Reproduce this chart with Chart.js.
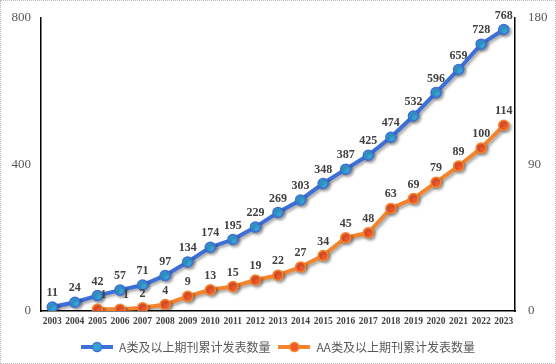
<!DOCTYPE html>
<html>
<head>
<meta charset="utf-8">
<script src="https://cdn.jsdelivr.net/npm/chart.js@4"></script>
<style>
    html, body { margin: 0; padding: 0; background: #fff; }
    #wrap { width: 554px; height: 362px; border: 1px dotted #bbb; position: relative; }
</style>
</head>
<body>
<div id="wrap"><canvas id="chart" width="554" height="362"></canvas></div>
<script>
// ================= DATA =================
const years = ["2003","2004","2005","2006","2007","2008","2009","2010","2011","2012","2013",
    "2014","2015","2016","2017","2018","2019","2020","2021","2022","2023"];
const seriesA = [11, 24, 42, 57, 71, 97, 134, 174, 195, 229, 269, 303, 348, 387, 425, 474, 532, 596, 659, 728, 768];
const seriesAA = [null, null, 1, 1, 2, 4, 9, 13, 15, 19, 22, 27, 34, 45, 48, 63, 69, 79, 89, 100, 114];
const leftTicks = [0, 400, 800];
const rightTicks = [0, 90, 180];
const labelA = "A类及以上期刊累计发表数量";
const labelAA = "AA类及以上期刊累计发表数量";

// ================= LEGEND ICONS =================
function legendIcon(line, fill) {
    const c = document.createElement("canvas");
    c.width = 32; c.height = 12;
    const g = c.getContext("2d");
    g.strokeStyle = line;
    g.lineWidth = 4;
    g.beginPath(); g.moveTo(0, 6); g.lineTo(32, 6); g.stroke();
    g.fillStyle = fill;
    g.lineWidth = 1.5;
    g.beginPath(); g.arc(16, 6, 4.5, 0, Math.PI * 2); g.fill(); g.stroke();
    return c;
}

// ================= PLUGINS =================
// value labels above each point
const valueLabels = {
    id: "valueLabels",
    afterDatasetsDraw(chart) {
        const ctx = chart.ctx;
        ctx.save();
        ctx.font = "bold 12px 'Liberation Serif'";
        ctx.fillStyle = "#404040";
        ctx.textAlign = "center";
        ctx.textBaseline = "bottom";
        chart.data.datasets.forEach((ds, i) => {
            chart.getDatasetMeta(i).data.forEach((pt, j) => {
                if (ds.data[j] == null) return;
                let dx = 0;
                if (i === 1 && j < 4) dx = 6;
                ctx.fillText(ds.data[j], pt.x + dx, pt.y - 8);
            });
        });
        ctx.restore();
    }
};

// soft shadow under the lines
const lineShadow = {
    id: "lineShadow",
    beforeDatasetsDraw(chart) {
        chart.ctx.save();
        chart.ctx.shadowColor = "rgba(0,0,0,0.35)";
        chart.ctx.shadowBlur = 3;
        chart.ctx.shadowOffsetX = 2;
        chart.ctx.shadowOffsetY = 2;
    },
    afterDatasetsDraw(chart) {
        chart.ctx.restore();
    }
};

// ================= CHART =================
new Chart(document.getElementById("chart"), {
    type: "line",
    data: {
        labels: years,
        datasets: [{
            label: labelA,
            data: seriesA,
            yAxisID: "y",
            borderColor: "#3c6fd8",
            borderWidth: 4,
            pointRadius: 5,
            pointBackgroundColor: "#36a3d6",
            pointBorderColor: "#3c6fd8",
            pointBorderWidth: 1.5,
            pointStyle: "circle",
            tension: 0
        }, {
            label: labelAA,
            data: seriesAA,
            yAxisID: "y1",
            borderColor: "#f5842c",
            borderWidth: 4,
            pointRadius: 5,
            pointBackgroundColor: "#f2582c",
            pointBorderColor: "#f5842c",
            pointBorderWidth: 1.5,
            pointStyle: "circle",
            tension: 0
        }]
    },
    options: {
        responsive: false,
        animation: false,
        layout: { padding: { top: 14, right: 0, left: 0, bottom: 0 } },
        plugins: {
            legend: {
                position: "bottom",
                labels: {
                    usePointStyle: true,
                    pointStyleWidth: 32,
                    boxHeight: 12,
                    padding: 8,
                    color: "#595959",
                    font: { family: "'Noto Sans CJK SC'", size: 12 },
                    generateLabels(chart) {
                        const icons = [legendIcon("#3c6fd8", "#36a3d6"), legendIcon("#f5842c", "#f2582c")];
                        return chart.data.datasets.map((ds, i) => ({
                            text: ds.label,
                            pointStyle: icons[i],
                            fontColor: "#595959",
                            lineWidth: 0,
                            datasetIndex: i
                        }));
                    }
                }
            },
            tooltip: { enabled: false }
        },
        scales: {
            x: {
                offset: true,
                grid: { display: false, drawTicks: false },
                border: { display: true, color: "#000", width: 1.5 },
                afterFit: axis => { axis.height = 22; },
                ticks: {
                    color: "#404040",
                    padding: 5,
                    maxRotation: 0,
                    autoSkip: false,
                    font: { family: "'Liberation Serif'", size: 9.5, weight: "bold" }
                }
            },
            y: {
                position: "left",
                min: 0,
                max: 800,
                afterBuildTicks: axis => { axis.ticks = leftTicks.map(v => ({ value: v })); },
                afterFit: axis => { axis.width = 40; },
                grid: { display: false, drawTicks: true, tickLength: 4 },
                border: { display: true, color: "#000", width: 1.5 },
                ticks: {
                    color: "#595959",
                    padding: 6,
                    font: { family: "'Liberation Serif'", size: 13 }
                }
            },
            y1: {
                position: "right",
                min: 0,
                max: 180,
                afterBuildTicks: axis => { axis.ticks = rightTicks.map(v => ({ value: v })); },
                afterFit: axis => { axis.width = 40; },
                grid: { display: false, drawTicks: true, tickLength: 4 },
                border: { display: true, color: "#000", width: 1.5 },
                ticks: {
                    color: "#595959",
                    padding: 9,
                    font: { family: "'Liberation Serif'", size: 13 }
                }
            }
        }
    },
    plugins: [lineShadow, valueLabels]
});
</script>
</body>
</html>
